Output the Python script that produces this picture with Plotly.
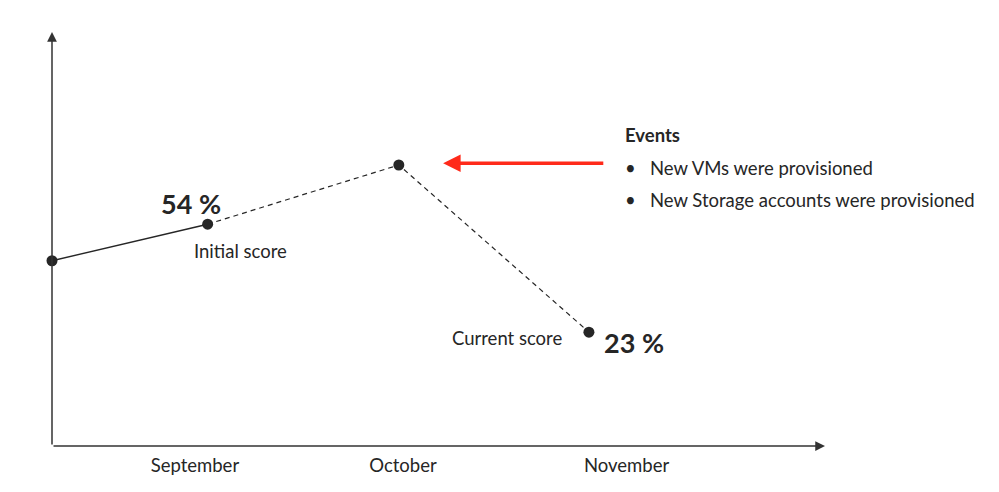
import plotly.graph_objects as go

# --- data ---
point_labels = ["Start", "Initial score", "Peak", "Current score"]
point_x = [0.0, 0.745, 1.66, 2.57]
scores = [43.5, 54, 71, 23]
month_ticks = [0.684, 1.68, 2.75]
month_labels = ["September", "October", "November"]
event_items = ["New VMs were provisioned", "New Storage accounts were provisioned"]

FONT = "Lato, 'Open Sans', sans-serif"
INK = "#262626"
X0, X1 = 0.0, 3.70
Y0, Y1 = -9.7, 109.2
FS = 18.5
FB = 27

fig = go.Figure()
fig.add_trace(go.Scatter(x=point_x[:2], y=scores[:2], mode="lines",
                         line=dict(color=INK, width=1.4), hoverinfo="skip"))
fig.add_trace(go.Scatter(x=point_x[1:], y=scores[1:], mode="lines",
                         line=dict(color=INK, width=1.2, dash="5px,4px"), hoverinfo="skip"))
fig.add_trace(go.Scatter(x=point_x, y=scores, mode="markers", cliponaxis=False,
                         marker=dict(color=INK, size=11), text=point_labels, hoverinfo="text"))

ann = []
# axes arrows
ann.append(dict(x=X1, y=Y0, ax=X0, ay=Y0, xref="x", yref="y", axref="x", ayref="y",
                showarrow=True, arrowhead=2, arrowsize=1.3, arrowwidth=1.5, arrowcolor="#333", text=""))
ann.append(dict(x=X0, y=Y1, ax=X0, ay=Y0, xref="x", yref="y", axref="x", ayref="y",
                showarrow=True, arrowhead=2, arrowsize=1.3, arrowwidth=1.5, arrowcolor="#333", text=""))
# red event arrow
ann.append(dict(x=1.872, y=71.5, ax=2.646, ay=71.5, xref="x", yref="y", axref="x", ayref="y",
                showarrow=True, arrowhead=2, arrowsize=1.0, arrowwidth=3.5, arrowcolor="#ff2a1a", text=""))
# value labels
ann.append(dict(x=0.665, y=60.0, xref="x", yref="y", text=f"<b>{scores[1]:.0f} %</b>", showarrow=False,
                font=dict(size=FB, color=INK, family=FONT)))
ann.append(dict(x=0.904, y=46.2, xref="x", yref="y", text=point_labels[1], showarrow=False,
                font=dict(size=FS, color=INK, family=FONT)))
ann.append(dict(x=2.18, y=21.2, xref="x", yref="y", text=point_labels[3], showarrow=False,
                font=dict(size=FS, color=INK, family=FONT)))
ann.append(dict(x=2.785, y=20.1, xref="x", yref="y", text=f"<b>{scores[3]:.0f} %</b>", showarrow=False,
                font=dict(size=FB, color=INK, family=FONT)))
# events
ann.append(dict(x=2.735, y=79.6, xref="x", yref="y", text="<b>Events</b>", showarrow=False,
                xanchor="left", font=dict(size=FS, color=INK, family=FONT)))
for item, yy in zip(event_items, [70.1, 60.9]):
    ann.append(dict(x=2.735, y=yy, xref="x", yref="y", text="•   " + item, showarrow=False,
                    xanchor="left", font=dict(size=FS, color=INK, family=FONT)))

fig.update_layout(
    width=983, height=476,
    margin=dict(l=44, r=166, t=24, b=38),
    paper_bgcolor="white", plot_bgcolor="white",
    showlegend=False,
    annotations=ann,
    xaxis=dict(range=[X0, X1], showgrid=False, zeroline=False, showline=False,
               tickmode="array", tickvals=month_ticks, ticktext=month_labels,
               ticks="", ticklabelstandoff=6, automargin=False,
               tickfont=dict(size=FS, color=INK, family=FONT), fixedrange=True),
    yaxis=dict(range=[Y0, Y1], showgrid=False, zeroline=False, showline=False,
               showticklabels=False, ticks="", automargin=False, fixedrange=True),
)

fig.write_html("out.html")
